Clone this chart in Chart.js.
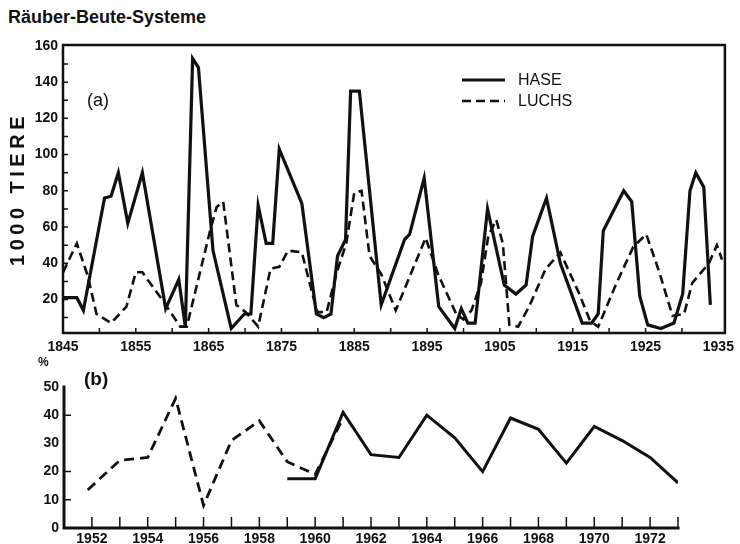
<!DOCTYPE html>
<html>
<head>
<meta charset="utf-8">
<style>
  body { margin: 0; background: #fff; }
  #wrap { position: relative; width: 740px; height: 544px; overflow: hidden; }
  .txt { position: absolute; color: #111; font-family: "Liberation Sans", Arial, sans-serif; white-space: nowrap; }
  canvas { position: absolute; left: 0; }
</style>
<script src="https://cdn.jsdelivr.net/npm/chart.js@4.4.1/dist/chart.umd.min.js"></script>
</head>
<body>
<div id="wrap">
  <div class="txt" style="left:8px;top:7px;font-size:18px;font-weight:bold;">Räuber-Beute-Systeme</div>
  <canvas id="chartA" width="740" height="356" style="top:0"></canvas>
  <canvas id="chartB" width="740" height="188" style="top:356px"></canvas>
  <div class="txt" style="left:87px;top:90px;font-size:18px;">(a)</div>
  <div class="txt" style="left:84px;top:368px;font-size:19px;font-weight:bold;">(b)</div>
  <div class="txt" style="left:38px;top:355px;font-size:12px;font-weight:bold;">%</div>
</div>
<script>
const hareYears = [1845.0, 1846.9, 1847.8, 1850.7, 1851.6, 1852.6, 1853.9, 1855.9, 1859.1, 1860.9,
  1861.8, 1862.8, 1863.6, 1865.6, 1868.1, 1869.9, 1870.8, 1871.8, 1872.9, 1873.8,
  1874.7, 1877.8, 1879.8, 1880.8, 1881.8, 1882.7, 1883.8, 1884.5, 1885.7, 1888.7,
  1891.9, 1892.6, 1894.6, 1896.6, 1898.8, 1899.7, 1900.6, 1901.6, 1903.3, 1905.6,
  1907.2, 1908.6, 1909.5, 1911.4, 1913.3, 1916.3, 1917.6, 1918.5, 1919.2, 1922.0,
  1923.1, 1924.2, 1925.3, 1927.1, 1928.9, 1930.1, 1931.1, 1931.9, 1933.0, 1933.9];
const hareValues = [21, 21, 14, 76, 77, 90, 62, 90, 15, 31,
  5, 153, 148, 47, 4, 12, 12, 72, 51, 51,
  103, 73, 12, 10, 12, 44, 53, 135, 135, 17,
  53, 56, 87, 16, 4, 15, 7, 7, 70, 28,
  23, 28, 55, 76, 40, 7, 7, 12, 58, 80,
  74, 22, 6, 4, 7, 23, 80, 90, 82, 17];

const lynxYears = [1845.0, 1846.9, 1848.4, 1849.6, 1851.6, 1853.7, 1855.0, 1855.9, 1858.6, 1861.1,
  1862.0, 1865.2, 1866.1, 1867.0, 1868.8, 1870.1, 1871.8, 1873.5, 1874.7, 1875.9,
  1877.8, 1879.9, 1881.2, 1882.6, 1883.9, 1885.0, 1886.0, 1887.1, 1888.7, 1890.7,
  1894.8, 1896.5, 1899.0, 1900.0, 1901.1, 1902.4, 1903.4, 1904.5, 1905.4, 1906.3,
  1907.5, 1909.0, 1911.3, 1913.3, 1915.8, 1917.4, 1918.5, 1920.8, 1923.3, 1925.1,
  1926.9, 1928.7, 1930.3, 1931.4, 1933.7, 1934.8, 1935.5];
const lynxValues = [35, 51, 33, 12, 7, 16, 35, 35, 20, 5,
  5, 58, 71, 74, 17, 13, 5, 37, 38, 47,
  46, 13, 13, 35, 51, 79, 80, 44, 34, 14,
  54, 34, 12, 9, 14, 29, 55, 64, 51, 6,
  5, 16, 37, 46, 24, 8, 5, 27, 49, 56,
  35, 11, 12, 29, 40, 50, 42];

const topXLabels = [1845, 1855, 1865, 1875, 1885, 1895, 1905, 1915, 1925, 1935];
const topYLabels = [20, 40, 60, 80, 100, 120, 140, 160];

// Unten: Prozent
const dashedYears = [1951.85, 1953, 1954, 1955, 1956, 1957, 1958, 1959, 1960, 1961];
const dashedValues = [13.5, 24, 25, 46, 8, 31, 38, 23.5, 19, 39];
const solidYears = [1959, 1960, 1961, 1962, 1963, 1964, 1965, 1966, 1967, 1968, 1969, 1970, 1971, 1972, 1973];
const solidValues = [17.5, 17.5, 41, 26, 25, 40, 32, 20, 39, 35, 23, 36, 31, 25, 16];

const bottomXLabels = [1952, 1954, 1956, 1958, 1960, 1962, 1964, 1966, 1968, 1970, 1972];
const bottomYLabels = [0, 10, 20, 30, 40, 50];

const ink = '#111';
const family = '"Liberation Sans", Arial, sans-serif';

function pts(xs, ys) {
  return xs.map((x, i) => ({ x: x, y: ys[i] }));
}

function range(a, b, step) {
  const out = [];
  for (let v = a; v <= b + 1e-9; v += step) out.push(v);
  return out;
}

// Rahmen, kleine Striche nach innen
const axisFrame = {
  id: 'axisFrame',
  afterDatasetsDraw(chart, args, opts) {
    const { ctx, chartArea: a, scales } = chart;
    ctx.save();
    ctx.strokeStyle = ink;
    ctx.lineWidth = opts.width;
    ctx.lineCap = 'square';
    ctx.beginPath();
    if (opts.box) {
      ctx.rect(a.left, a.top, a.right - a.left, a.bottom - a.top);
    } else {
      ctx.moveTo(a.left, a.top);
      ctx.lineTo(a.left, a.bottom);
      ctx.lineTo(a.right, a.bottom);
    }
    ctx.stroke();

    ctx.lineWidth = 1.5;
    ctx.lineCap = 'butt';
    ctx.beginPath();
    opts.xMarks.forEach(v => {
      const px = scales.x.getPixelForValue(v);
      ctx.moveTo(px, a.bottom);
      ctx.lineTo(px, a.bottom - opts.xLen);
    });
    opts.yMarks.forEach(v => {
      const py = scales.y.getPixelForValue(v);
      ctx.moveTo(a.left, py);
      ctx.lineTo(a.left + opts.yLen, py);
    });
    ctx.stroke();
    ctx.restore();
  }
};

// gesperrter Achsentitel links
const sideTitle = {
  id: 'sideTitle',
  afterDraw(chart, args, opts) {
    if (!opts.text) return;
    const { ctx, chartArea: a } = chart;
    ctx.save();
    ctx.translate(opts.x, (a.top + a.bottom) / 2 + opts.dy);
    ctx.rotate(-Math.PI / 2);
    ctx.fillStyle = ink;
    ctx.font = opts.font;
    ctx.letterSpacing = opts.spacing;
    ctx.textAlign = 'center';
    ctx.textBaseline = 'middle';
    ctx.fillText(opts.text, 0, 0);
    ctx.restore();
  }
};

const lineLegend = {
  id: 'lineLegend',
  afterDraw(chart, args, opts) {
    if (!opts.display) return;
    const { ctx } = chart;
    ctx.save();
    chart.data.datasets.forEach((ds, i) => {
      const y = opts.y + i * opts.gap;
      ctx.strokeStyle = ds.borderColor;
      ctx.lineWidth = ds.borderWidth;
      ctx.setLineDash(ds.borderDash || []);
      ctx.beginPath();
      ctx.moveTo(opts.x, y);
      ctx.lineTo(opts.x + opts.len, y);
      ctx.stroke();
      ctx.setLineDash([]);
      ctx.fillStyle = ink;
      ctx.font = opts.font;
      ctx.textBaseline = 'middle';
      ctx.fillText(ds.label, opts.x + opts.len + 13, y + 1);
    });
    ctx.restore();
  }
};

const tickFont = { family: family, size: 14, weight: 'bold' };

// (a) Hase / Luchs
new Chart(document.getElementById('chartA'), {
  type: 'line',
  data: {
    datasets: [
      { label: 'HASE', data: pts(hareYears, hareValues), borderColor: ink, borderWidth: 3.2,
        pointRadius: 0, tension: 0, borderJoinStyle: 'miter' },
      { label: 'LUCHS', data: pts(lynxYears, lynxValues), borderColor: ink, borderWidth: 2.6,
        borderDash: [9, 5], pointRadius: 0, tension: 0 }
    ]
  },
  options: {
    responsive: false,
    animation: false,
    devicePixelRatio: 1,
    layout: { padding: { top: 45, right: 7, left: 0, bottom: 0 } },
    plugins: {
      legend: { display: false },
      tooltip: { enabled: false },
      axisFrame: { box: true, width: 2.5, xMarks: range(1850, 1930, 5), xLen: 5,
        yMarks: range(10, 150, 10), yLen: 5 },
      sideTitle: { text: '1000 TIERE', x: 18, dy: 0, font: 'bold 20px ' + family, spacing: '4.5px' },
      lineLegend: { display: true, x: 462, y: 80, gap: 21, len: 43, font: '16px ' + family }
    },
    scales: {
      x: {
        type: 'linear', min: 1845, max: 1935.9,
        afterBuildTicks: s => { s.ticks = topXLabels.map(v => ({ value: v })); },
        afterFit: s => { s.height = 23; },
        grid: { display: false, drawTicks: false },
        border: { display: false },
        ticks: { font: tickFont, color: ink, padding: 6, maxRotation: 0, autoSkip: false,
          callback: v => String(v) }
      },
      y: {
        min: 1.5, max: 160.5,
        afterBuildTicks: s => { s.ticks = topYLabels.map(v => ({ value: v })); },
        afterFit: s => { s.width = 63; },
        grid: { display: false, drawTicks: false },
        border: { display: false },
        ticks: { font: tickFont, color: ink, padding: 5 }
      }
    }
  },
  plugins: [axisFrame, sideTitle, lineLegend]
});

// (b) Prozent
new Chart(document.getElementById('chartB'), {
  type: 'line',
  data: {
    datasets: [
      { label: 'gestrichelt', data: pts(dashedYears, dashedValues), borderColor: ink, borderWidth: 2.8,
        borderDash: [10, 6], pointRadius: 0, tension: 0 },
      { label: 'durchgezogen', data: pts(solidYears, solidValues), borderColor: ink, borderWidth: 3,
        pointRadius: 0, tension: 0, borderJoinStyle: 'miter' }
    ]
  },
  options: {
    responsive: false,
    animation: false,
    devicePixelRatio: 1,
    layout: { padding: { top: 31, right: 62, left: 0, bottom: 0 } },
    plugins: {
      legend: { display: false },
      tooltip: { enabled: false },
      axisFrame: { box: false, width: 3, xMarks: range(1952, 1973, 1), xLen: 11,
        yMarks: [10, 20, 40], yLen: 7 },
      sideTitle: { text: '' },
      lineLegend: { display: false }
    },
    scales: {
      x: {
        type: 'linear', min: 1951, max: 1973,
        afterBuildTicks: s => { s.ticks = bottomXLabels.map(v => ({ value: v })); },
        afterFit: s => { s.height = 16; },
        grid: { display: false, drawTicks: false },
        border: { display: false },
        ticks: { font: tickFont, color: ink, padding: 3, maxRotation: 0, autoSkip: false,
          callback: v => String(v) }
      },
      y: {
        min: 0, max: 50,
        afterBuildTicks: s => { s.ticks = bottomYLabels.map(v => ({ value: v })); },
        afterFit: s => { s.width = 64; },
        grid: { display: false, drawTicks: false },
        border: { display: false },
        ticks: { font: tickFont, color: ink, padding: 5 }
      }
    }
  },
  plugins: [axisFrame, sideTitle, lineLegend]
});
</script>
</body>
</html>
